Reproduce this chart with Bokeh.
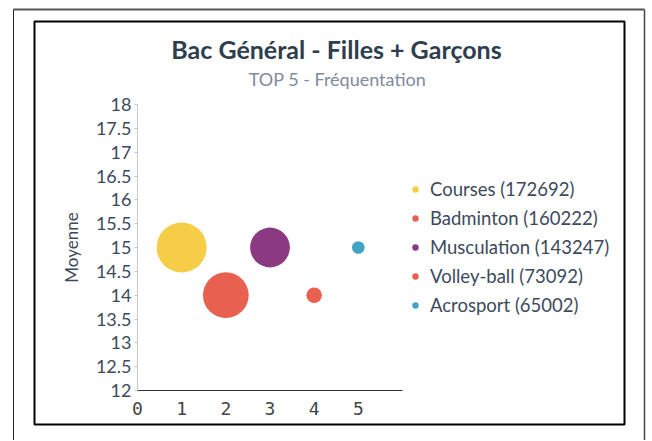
from bokeh.plotting import figure
from bokeh.models import (Range1d, FixedTicker, Label, Legend, LegendItem,
                          ColumnDataSource, LinearAxis)
from bokeh.embed import file_html
from bokeh.resources import INLINE

# ---------------- data ----------------
categories = ["Courses", "Badminton", "Musculation", "Volley-ball", "Acrosport"]
x_pos = [1, 2, 3, 4, 5]
moyenne = [15, 14, 15, 14, 15]
frequentation = [172692, 160222, 143247, 73092, 65002]
colors = ["#F5CD47", "#E8604F", "#8B3A82", "#E8604F", "#43A3C3"]
x_ticks = [0, 1, 2, 3, 4, 5]
y_ticks = [12, 12.5, 13, 13.5, 14, 14.5, 15, 15.5, 16, 16.5, 17, 17.5, 18]
y_tick_labels = ["12", "12.5", "13", "13.5", "14", "14.5", "15", "15.5",
                 "16", "16.5", "17", "17.5", "18"]
title_text = "Bac Général - Filles + Garçons"
subtitle_text = "TOP 5 - Fréquentation"
y_title = "Moyenne"
x_min, x_max = 0, 6
y_min, y_max = 12, 18

# ---------------- layout (canvas pixels) ----------------
W, H = 650, 440
ax_left_px = 137      # canvas x of data x=0
ax_right_px = 402     # canvas x of data x=6
ax_top_px = 104       # canvas y (from top) of data y=18
ax_bot_px = 390       # canvas y (from top) of data y=12
ux = (ax_right_px - ax_left_px) / (x_max - x_min)
uy = (ax_bot_px - ax_top_px) / (y_max - y_min)
xs = x_min - ax_left_px / ux
xe = xs + W / ux
yt = y_max + ax_top_px / uy
yb = yt - H / uy


def dx(sx):
    return xs + sx / ux


def dy(sy):
    return yt - sy / uy


p = figure(width=W, height=H, output_backend="svg", toolbar_location=None,
           x_range=Range1d(xs, xe), y_range=Range1d(yb, yt),
           x_axis_type=None, y_axis_type=None, min_border=0)
p.outline_line_color = None
p.background_fill_color = "white"
p.border_fill_color = "white"

# frames (decoration)
p.quad(left=[dx(34)], right=[dx(624)], top=[dy(21)], bottom=[dy(424)],
       fill_alpha=0, line_color="black", line_width=2)
p.segment(x0=[dx(13)], y0=[dy(9)], x1=[dx(644)], y1=[dy(9)],
          line_color="#555555", line_width=2)
p.segment(x0=[dx(13)], y0=[dy(9)], x1=[dx(13)], y1=[dy(H)],
          line_color="#222222", line_width=1)
p.segment(x0=[dx(644)], y0=[dy(9)], x1=[dx(644)], y1=[dy(H)],
          line_color="#444444", line_width=1.5)

# axes
xaxis = LinearAxis(fixed_location=y_min, bounds=(x_min, x_max),
                   ticker=FixedTicker(ticks=x_ticks))
xaxis.axis_line_color = "#333333"
xaxis.major_tick_line_color = None
xaxis.minor_tick_line_color = None
xaxis.major_label_text_font = "DejaVu Sans Mono"
xaxis.major_label_text_font_size = "18px"
xaxis.major_label_text_color = "#444444"
xaxis.major_label_standoff = 5
p.add_layout(xaxis, "below")

yaxis = LinearAxis(fixed_location=x_min, bounds=(y_min, y_max),
                   ticker=FixedTicker(ticks=y_ticks))
yaxis.major_label_overrides = {t: l for t, l in zip(y_ticks, y_tick_labels)}
yaxis.axis_line_color = "#C8C8C8"
yaxis.major_tick_line_color = "#C8C8C8"
yaxis.major_tick_out = 3
yaxis.major_tick_in = 0
yaxis.minor_tick_line_color = None
yaxis.major_label_text_font = "Lato"
yaxis.major_label_text_font_size = "18px"
yaxis.major_label_text_color = "#3D4A5C"
yaxis.major_label_standoff = 3
yaxis.axis_label = y_title
yaxis.axis_label_text_font = "Lato"
yaxis.axis_label_text_font_size = "17px"
yaxis.axis_label_text_font_style = "normal"
yaxis.axis_label_text_color = "#3D4A5C"
yaxis.axis_label_standoff = 11
p.add_layout(yaxis, "left")

# bubbles: diameter linear in value (Highcharts sizeBy width)
d_min, d_max = 12.7, 50.0
v_min, v_max = min(frequentation), max(frequentation)
sizes = [d_min + (v - v_min) / (v_max - v_min) * (d_max - d_min) for v in frequentation]
labels = [f"{c} ({v})" for c, v in zip(categories, frequentation)]
src = ColumnDataSource(dict(x=x_pos, y=moyenne, size=sizes, color=colors, label=labels))
r = p.scatter("x", "y", size="size", source=src, fill_color="color",
              line_color=None)

legend = Legend(items=[LegendItem(label=labels[i], renderers=[r], index=i)
                       for i in range(len(labels))],
                location=(407, H - 316))
legend.glyph_width = 16
legend.glyph_height = 20
legend.label_height = 20
legend.spacing = 7
legend.label_standoff = 7
legend.padding = 0
legend.margin = 0
legend.border_line_color = None
legend.background_fill_alpha = 0
legend.label_text_font = "Lato"
legend.label_text_font_size = "18.5px"
legend.label_text_color = "#3D4A5C"
p.add_layout(legend)

p.add_layout(Label(x=336, y=H - 48, x_units="screen", y_units="screen",
                   text=title_text, text_align="center", text_baseline="middle",
                   text_font="Lato", text_font_style="bold", text_font_size="25px",
                   text_color="#2F3E4E"))
p.add_layout(Label(x=337, y=H - 78, x_units="screen", y_units="screen",
                   text=subtitle_text, text_align="center", text_baseline="middle",
                   text_font="Lato", text_font_size="18px",
                   text_color="#808A9A"))

open("out.html", "w").write(file_html(p, INLINE))
